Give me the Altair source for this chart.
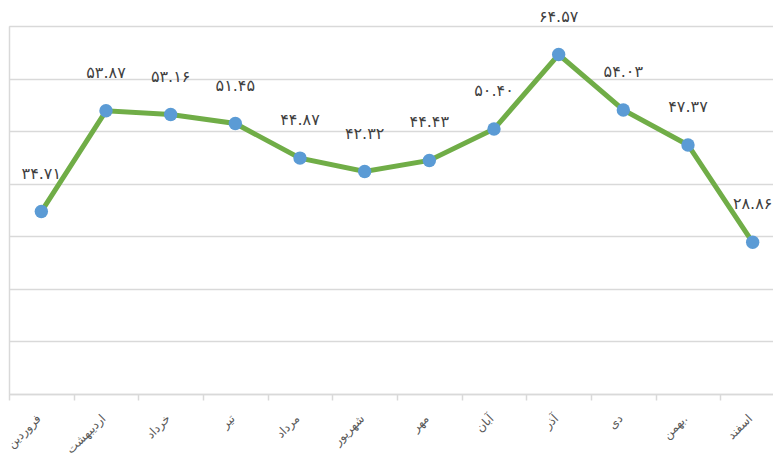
import altair as alt
import pandas as pd

months = ["فروردین", "اردیبهشت", "خرداد", "تیر", "مرداد", "شهریور",
          "مهر", "آبان", "آذر", "دی", "بهمن.", "اسفند"]
values = [34.71, 53.87, 53.16, 51.45, 44.87, 42.32, 44.43, 50.40, 64.57, 54.03, 47.37, 28.86]
labels = ["۳۴.۷۱", "۵۳.۸۷", "۵۳.۱۶", "۵۱.۴۵", "۴۴.۸۷", "۴۲.۳۲",
          "۴۴.۴۳", "۵۰.۴۰", "۶۴.۵۷", "۵۴.۰۳", "۴۷.۳۷", "۲۸.۸۶"]

df = pd.DataFrame({"month": months, "value": values, "label": labels})

W = 764          # visible plot width (fits the page)
RANGE = 776      # full width of the category range (runs past the page edge)
H = 368
step = RANGE / len(months)

x = alt.X("month:N", sort=months, title=None,
          scale=alt.Scale(type="point", padding=0.5, range=[0, RANGE]),
          axis=alt.Axis(labelAngle=-45, labelAlign="right", labelBaseline="middle",
                        labelColor="#595959", labelFontSize=12,
                        labelFont="DejaVu Sans", labelPadding=16,
                        tickOffset=-step / 2, labelOffset=step / 2 - 3,
                        tickColor="#d9d9d9", tickSize=6,
                        tickWidth=1.5, domainColor="#d9d9d9", domainWidth=1.5,
                        grid=False))
y = alt.Y("value:Q", title=None,
          scale=alt.Scale(domain=[0, 70], nice=False),
          axis=alt.Axis(values=[0, 10, 20, 30, 40, 50, 60, 70], labels=False, ticks=False,
                        grid=True, gridColor="#d9d9d9", gridWidth=1.5,
                        domainColor="#d9d9d9", domainWidth=1.5))

base = alt.Chart(df).encode(x=x, y=y)

line = base.mark_line(color="#70ad47", strokeWidth=5)
points = base.mark_circle(color="#5b9bd5", size=180, opacity=1)
text = base.mark_text(dy=-38, fontSize=16, font="DejaVu Sans", color="#404040").encode(text="label:N")

chart = (line + points + text).properties(
    width=W, height=H,
    autosize=alt.AutoSizeParams(type="none"),
    padding={"left": 1, "top": 18, "right": 0, "bottom": 67},
).configure_view(stroke=None).configure(background="white")

chart.save("out.html", embed_options={"renderer": "svg", "actions": False})
